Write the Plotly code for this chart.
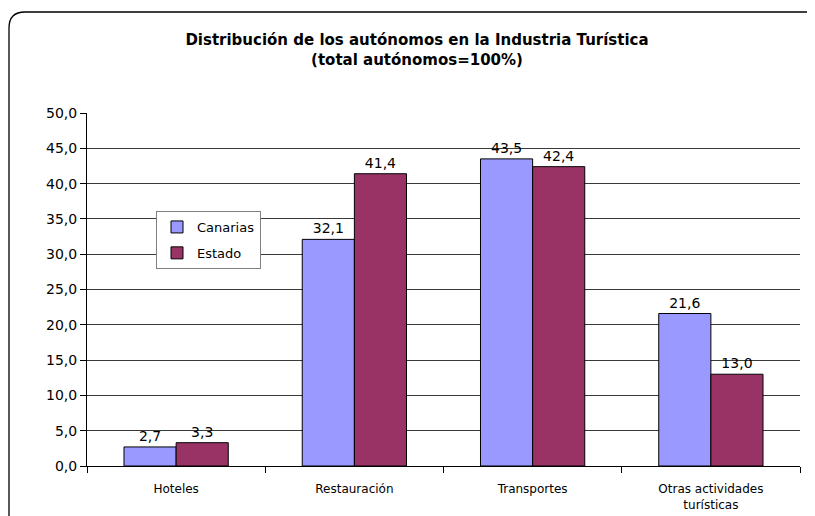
import plotly.graph_objects as go

# data
categories = ["Hoteles", "Restauración", "Transportes", "Otras actividades<br>turísticas"]
canarias = [2.7, 32.1, 43.5, 21.6]
estado = [3.3, 41.4, 42.4, 13.0]
y_ticks = [0, 5, 10, 15, 20, 25, 30, 35, 40, 45, 50]

OFF = 8  # page body margin shifts the figure
W, H = 815, 516
L, R, T, B = 79, 23, 105, 58
FONT = "DejaVu Sans, Verdana, sans-serif"


def fmt(v):
    return f"{v:.1f}".replace(".", ",")


fig = go.Figure()
fig.add_trace(go.Bar(
    x=categories, y=canarias, name="Canarias", legendgroup="a",
    marker=dict(color="#9999FF", line=dict(color="#000000", width=1)),
    text=[fmt(v) for v in canarias], textposition="outside",
    textfont=dict(size=14, color="#000000"), cliponaxis=False,
))
fig.add_trace(go.Bar(
    x=categories, y=estado, name="Estado", legendgroup="b",
    marker=dict(color="#993366", line=dict(color="#000000", width=1)),
    text=[fmt(v) for v in estado], textposition="outside",
    textfont=dict(size=14, color="#000000"), cliponaxis=False,
))

# screen pixel -> paper coords
pw, ph = W - L - R, H - T - B


def px(x):
    return (x - OFF - L) / pw


def py(y):
    return (H - B - (y - OFF)) / ph


r = 16
path = (f"M {px(840)},{py(12)} L {px(9 + r)},{py(12)} "
        f"Q {px(9)},{py(12)} {px(9)},{py(12 + r)} "
        f"L {px(9)},{py(540)}")

fig.update_layout(
    width=W, height=H,
    margin=dict(l=L, r=R, t=T, b=B),
    paper_bgcolor="white", plot_bgcolor="white",
    font=dict(family=FONT, color="#000000"),
    separators=",.",
    barmode="group", bargap=0.415, bargroupgap=0,
    title=dict(
        text="Distribución de los autónomos en la Industria Turística<br>(total autónomos=100%)",
        x=(417 - OFF) / W, xanchor="center", y=1 - (45 - OFF) / H, yanchor="top",
        font=dict(size=15, family=FONT, weight="bold"),
    ),
    xaxis=dict(
        showline=True, linecolor="#000000", linewidth=1,
        ticks="outside", ticklen=6, tickcolor="#000000", tickson="boundaries",
        tickfont=dict(size=12), showgrid=False, ticklabelstandoff=12,
        automargin=False,
    ),
    yaxis=dict(
        range=[0, 50], tickvals=y_ticks, tickformat=".1f",
        showline=True, linecolor="#000000", linewidth=1,
        ticks="outside", ticklen=6, tickcolor="#000000",
        showgrid=True, gridcolor="#3a3a3a", gridwidth=1,
        tickfont=dict(size=14), zeroline=False, automargin=False,
    ),
    legend=dict(
        x=px(156), y=py(211), xanchor="left", yanchor="top",
        bordercolor="#808080", borderwidth=1, bgcolor="white",
        font=dict(size=13), itemwidth=30, tracegroupgap=6,
        traceorder="grouped",
    ),
    shapes=[dict(type="path", xref="paper", yref="paper", path=path,
                 line=dict(color="#000000", width=1.3))],
)

fig.write_html("out.html")
